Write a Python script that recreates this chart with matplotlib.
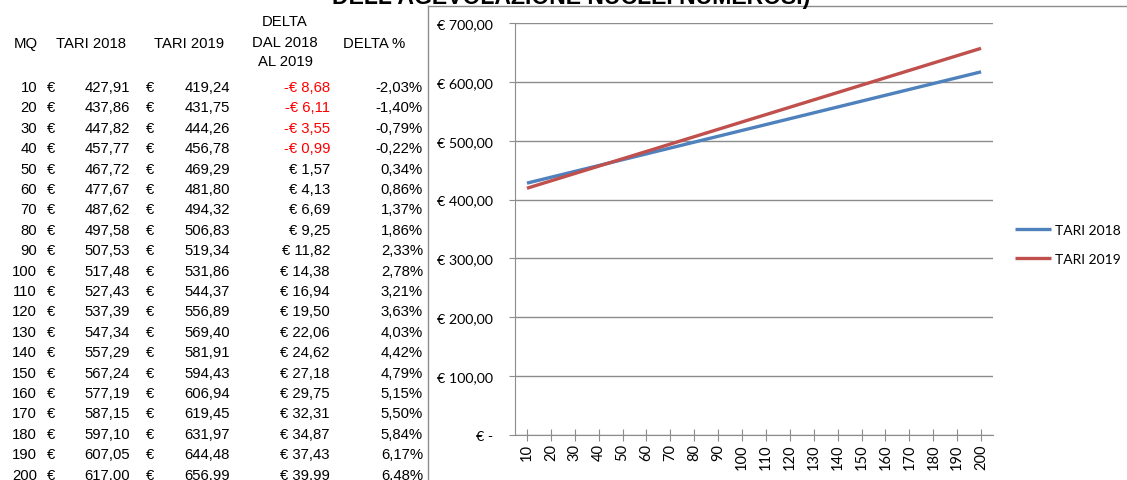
import numpy as np
import matplotlib.pyplot as plt
from matplotlib.ticker import FuncFormatter

mq = [10, 20, 30, 40, 50, 60, 70, 80, 90, 100, 110, 120, 130, 140, 150, 160, 170, 180, 190, 200]
tari_2018 = [427.91, 437.86, 447.82, 457.77, 467.72, 477.67, 487.62, 497.58, 507.53, 517.48,
             527.43, 537.39, 547.34, 557.29, 567.24, 577.19, 587.15, 597.10, 607.05, 617.00]
tari_2019 = [419.24, 431.75, 444.26, 456.78, 469.29, 481.80, 494.32, 506.83, 519.34, 531.86,
             544.37, 556.89, 569.40, 581.91, 594.43, 606.94, 619.45, 631.97, 644.48, 656.99]
delta = [-8.68, -6.11, -3.55, -0.99, 1.57, 4.13, 6.69, 9.25, 11.82, 14.38,
         16.94, 19.50, 22.06, 24.62, 27.18, 29.75, 32.31, 34.87, 37.43, 39.99]
delta_pct = [-2.03, -1.40, -0.79, -0.22, 0.34, 0.86, 1.37, 1.86, 2.33, 2.78,
             3.21, 3.63, 4.03, 4.42, 4.79, 5.15, 5.50, 5.84, 6.17, 6.48]

title = "DELL'AGEVOLAZIONE NUCLEI NUMEROSI)"
blue = '#4F81BD'
red = '#C0504D'
W, H = 1127, 481


def it(v):
    # italian number format
    return f'{v:,.2f}'.replace(',', 'X').replace('.', ',').replace('X', '.')


fig = plt.figure(figsize=(W / 100, H / 100), dpi=100)

# background axes in pixel coords for the spreadsheet table
bg = fig.add_axes([0, 0, 1, 1])
bg.set_xlim(0, W)
bg.set_ylim(H, 0)
bg.axis('off')

tf = dict(family='Liberation Sans', fontsize=10.7, color='black')
bg.text(26, 44, 'MQ', ha='center', va='center', **tf)
bg.text(91, 44, 'TARI 2018', ha='center', va='center', **tf)
bg.text(189, 44, 'TARI 2019', ha='center', va='center', **tf)
bg.text(285, 22, 'DELTA', ha='center', va='center', **tf)
bg.text(285, 43, 'DAL 2018', ha='center', va='center', **tf)
bg.text(285, 62, 'AL 2019', ha='center', va='center', **tf)
bg.text(374, 44, 'DELTA %', ha='center', va='center', **tf)

for i in range(len(mq)):
    y = 88 + i * 20.4
    bg.text(37, y, str(mq[i]), ha='right', va='center', **tf)
    bg.text(47, y, '€', ha='left', va='center', **tf)
    bg.text(130, y, it(tari_2018[i]), ha='right', va='center', **tf)
    bg.text(146, y, '€', ha='left', va='center', **tf)
    bg.text(230, y, it(tari_2019[i]), ha='right', va='center', **tf)
    d = delta[i]
    if d < 0:
        bg.text(330, y, '-€ ' + it(-d), ha='right', va='center',
                family='Liberation Sans', fontsize=10.7, color='#FF0000')
    else:
        bg.text(330, y, '€ ' + it(d), ha='right', va='center', **tf)
    bg.text(423, y, it(delta_pct[i]) + '%', ha='right', va='center', **tf)

# chart border and clipped title
bg.plot([427.5, 427.5], [7, H], color='#8C8C8C', lw=1)
bg.plot([427.5, W], [7, 7], color='#8C8C8C', lw=1)
bg.text(571, 4, title, ha='center', va='baseline', fontsize=16.6,
        fontweight='bold', family='Liberation Sans')

# chart
left, right, y0, y700 = 515, 993, 436, 24
ax = fig.add_axes([left / W, (H - y0) / H, (right - left) / W, (y0 - y700) / H])
x = np.arange(1, len(mq) + 1)
ax.plot(x, tari_2018, color=blue, lw=2.4, label='TARI 2018', solid_capstyle='butt')
ax.plot(x, tari_2019, color=red, lw=2.4, label='TARI 2019', solid_capstyle='butt')
ax.set_xlim(0.5, len(mq) + 0.5)
ax.set_ylim(0, 700)
ax.set_yticks(np.arange(0, 701, 100))
ax.yaxis.set_major_formatter(FuncFormatter(lambda v, p: '€ -' if v == 0 else '€ ' + it(v)))
ax.set_xticks(x)
ax.set_xticklabels([str(m) for m in mq], rotation=90, family='Lato', fontsize=10.5)
for lab in ax.get_yticklabels():
    lab.set_family('Lato')
    lab.set_fontsize(10.3)
ax.grid(axis='y', color='#8C8C8C', lw=1)
ax.set_axisbelow(True)
for s in ['top', 'right']:
    ax.spines[s].set_visible(False)
for s in ['left', 'bottom']:
    ax.spines[s].set_color('#8C8C8C')
ax.tick_params(axis='y', length=4, color='#8C8C8C', pad=12)
ax.tick_params(axis='x', direction='inout', length=8, color='#8C8C8C', pad=2)
ax.legend(loc='center left', bbox_to_anchor=(1.02, 0.462), frameon=False,
          prop={'family': 'Lato', 'size': 10}, handlelength=2.6, labelspacing=1.2,
          handletextpad=0.3)

fig.savefig('out.png', dpi=100)
